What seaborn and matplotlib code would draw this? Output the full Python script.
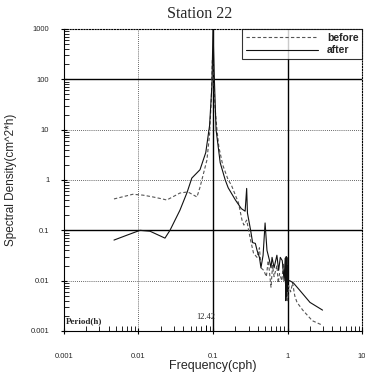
import numpy as np
import pandas as pd
import matplotlib
matplotlib.use("Agg")
import matplotlib.pyplot as plt
import seaborn as sns

title = "Station 22"
series_names = ["before", "after"]

before_freq = [0.0047, 0.0084, 0.0115, 0.0157, 0.021, 0.024, 0.036, 0.046, 0.061, 0.067,
               0.083, 0.09, 0.095, 0.098, 0.101, 0.106, 0.113, 0.12, 0.135, 0.16,
               0.176, 0.22, 0.245, 0.26, 0.283, 0.32, 0.35, 0.39, 0.42, 0.44, 0.48,
               0.52, 0.55, 0.57, 0.6, 0.63, 0.66, 0.72, 0.75, 0.78, 0.84, 0.88, 0.9, 0.95, 0.98,
               1.0, 1.03, 1.1, 1.17, 1.25, 1.34, 1.6, 2.15, 2.95]
before_psd = [0.42, 0.52, 0.50, 0.46, 0.42, 0.40, 0.55, 0.58, 0.46, 0.72,
              2.5, 8.0, 40.0, 250.0, 200.0, 30.0, 10.0, 4.5, 2.0, 1.0,
              0.8, 0.35, 0.16, 0.127, 0.16, 0.063, 0.035, 0.029, 0.045, 0.018, 0.016,
              0.012, 0.025, 0.016, 0.0074, 0.02, 0.012, 0.02, 0.009, 0.0138, 0.01, 0.022, 0.016, 0.0074, 0.02,
              0.004, 0.008, 0.006, 0.009, 0.005, 0.0037, 0.0026, 0.0016, 0.0013]

after_freq = [0.0047, 0.007, 0.0105, 0.0143, 0.0227, 0.0265, 0.036, 0.045, 0.052, 0.067,
              0.08, 0.09, 0.097, 0.1, 0.104, 0.11, 0.125, 0.146, 0.16, 0.2,
              0.24, 0.27, 0.283, 0.29, 0.32, 0.34, 0.37, 0.39, 0.42, 0.44,
              0.47, 0.5, 0.53, 0.57, 0.6, 0.62, 0.66, 0.72, 0.76, 0.8,
              0.85, 0.9, 0.93, 0.95, 0.96, 0.97, 0.98, 0.99, 1.0, 1.02, 1.07, 1.2, 1.45,
              2.0, 2.95]
after_psd = [0.064, 0.08, 0.10, 0.096, 0.07, 0.10, 0.25, 0.57, 1.09, 1.6,
             3.5, 12.0, 80.0, 1000.0, 120.0, 10.0, 2.2, 1.0, 0.7, 0.4,
             0.27, 0.24, 0.68, 0.22, 0.10, 0.057, 0.055, 0.04, 0.029, 0.018,
             0.032, 0.14, 0.04, 0.026, 0.018, 0.029, 0.018, 0.032, 0.016, 0.029,
             0.025, 0.01, 0.028, 0.004, 0.03, 0.005, 0.029, 0.006, 0.02, 0.01, 0.010, 0.009, 0.0065,
             0.0037, 0.0026]

x_ticks = [0.001, 0.01, 0.1, 1, 10]
x_ticklabels = ["0.001", "0.01", "0.1", "1", "10"]
y_ticks = [0.001, 0.01, 0.1, 1, 10, 100, 1000]
y_ticklabels = ["0.001", "0.01", "0.1", "1", "10", "100", "1000"]
period_label = "Period(h)"
tide_period = 12.42

df = pd.concat([
    pd.DataFrame({"freq": before_freq, "psd": before_psd, "series": "before"}),
    pd.DataFrame({"freq": after_freq, "psd": after_psd, "series": "after"}),
], ignore_index=True)

sns.set_theme(style="ticks")
plt.rcParams["font.family"] = ["Liberation Sans", "DejaVu Sans"]

fig = plt.figure(figsize=(3.65, 3.74), dpi=100)
ax = fig.add_axes([0.175, 0.115, 0.817, 0.8075])

sns.lineplot(data=df, x="freq", y="psd", hue="series", style="series",
             hue_order=series_names, style_order=series_names,
             palette={"before": "#555555", "after": "#111111"},
             dashes={"before": (3, 2), "after": ""},
             linewidth=0.8, sort=False, estimator=None, ax=ax)

ax.set_xscale("log")
ax.set_yscale("log")
ax.set_xlim(0.001, 10)
ax.set_ylim(0.001, 1000)

# grid lines (solid reference lines and dotted grid)
for xv in [0.01]:
    ax.axvline(xv, color="#333333", lw=0.6, ls=(0, (1, 1.5)), zorder=0)
for xv in [0.1, 1]:
    ax.axvline(xv, color="black", lw=1.0, zorder=0)
for yv in [10, 1, 0.01]:
    ax.axhline(yv, color="#333333", lw=0.6, ls=(0, (1, 1.5)), zorder=0)
for yv in [100, 0.1]:
    ax.axhline(yv, color="black", lw=1.0, zorder=0)

# small marker tick under the period label
ax.vlines(1 / tide_period, 0.001, 0.0013, color="black", lw=0.7)

ax.set_xticks(x_ticks)
ax.set_xticklabels(x_ticklabels)
ax.set_yticks(y_ticks)
ax.set_yticklabels(y_ticklabels)
ax.tick_params(axis="both", which="major", labelsize=5.5, length=5,
               direction="inout", width=0.8, color="black",
               bottom=True, left=True, top=False, right=False)
ax.tick_params(axis="x", which="major", pad=13)
ax.tick_params(axis="y", which="major", pad=8)
ax.tick_params(axis="both", which="minor", length=3.5, direction="in",
               width=0.6, color="black", bottom=True, left=True,
               top=False, right=False)

for s in ax.spines.values():
    s.set_color("black")
    s.set_linewidth(0.8)
ax.spines["right"].set_linestyle((0, (1, 1.5)))
ax.spines["top"].set_linestyle((0, (1, 1.5)))

ax.set_xlabel("Frequency(cph)", fontsize=9, labelpad=0)
ax.set_ylabel("Spectral Density(cm^2*h)", fontsize=8.5, labelpad=10)

fig.text(200 / 365, 1 - 14 / 374, title, ha="center", va="center",
         fontsize=11.5, family=["Liberation Serif", "DejaVu Serif"])

ax.text(0.00105, 0.0013, period_label, fontsize=6.5, fontweight="bold",
        family=["Liberation Serif", "DejaVu Serif"], ha="left", va="bottom")
ax.text(1 / tide_period, 0.0016, f"{tide_period:.2f}", fontsize=6,
        family=["Liberation Serif", "DejaVu Serif"], ha="center", va="bottom")

leg = ax.legend(loc="upper right", fontsize=7.5, frameon=True, fancybox=False,
                borderaxespad=0, handlelength=7, labelspacing=0.25,
                borderpad=0.35, handletextpad=0.8)
leg.get_frame().set_edgecolor("black")
leg.get_frame().set_linewidth(0.8)
leg.get_frame().set_facecolor("white")
leg.set_zorder(5)
for t in leg.get_texts():
    t.set_fontweight("bold")

fig.savefig("out.png", dpi=100)
